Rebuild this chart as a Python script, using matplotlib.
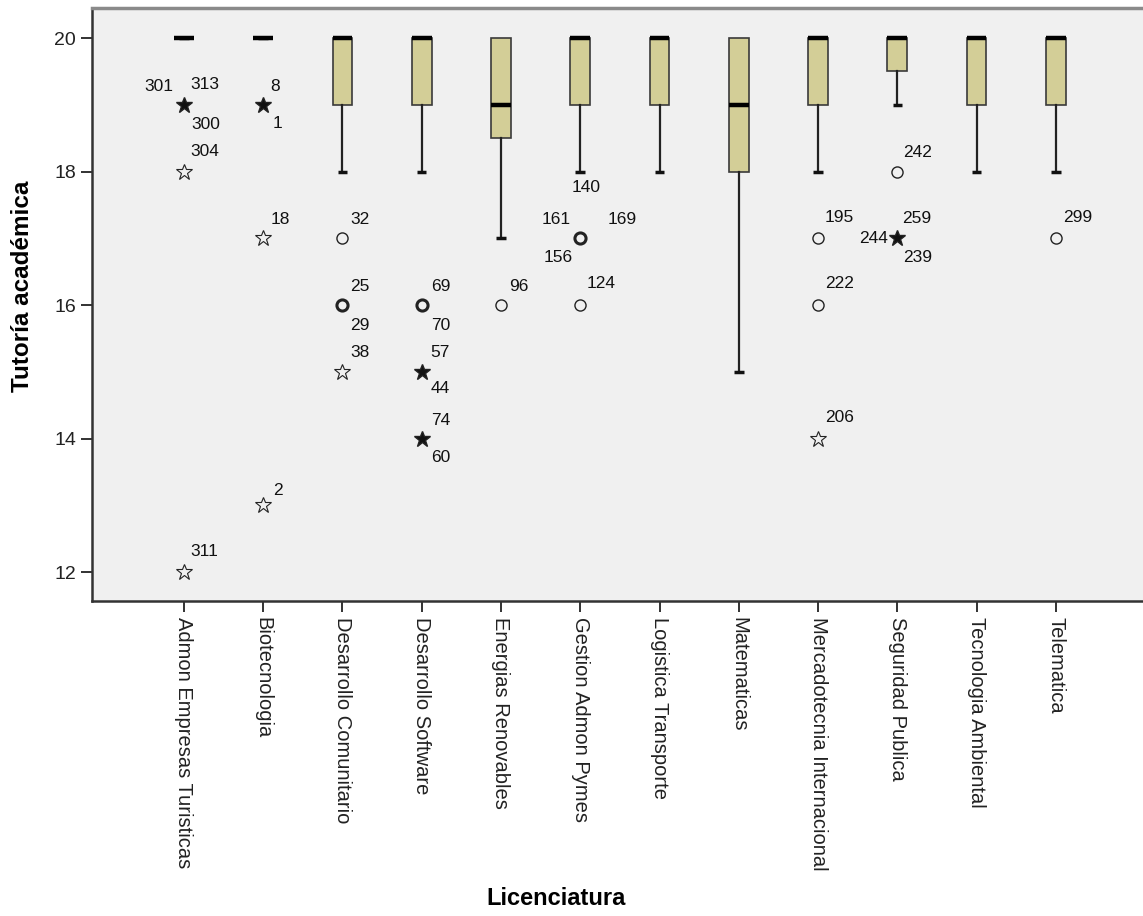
import matplotlib
matplotlib.use("Agg")
import matplotlib.pyplot as plt

plt.rcParams['font.family'] = ['Liberation Sans', 'DejaVu Sans']

# categories and box statistics
carreras = ['Admon Empresas Turisticas', 'Biotecnologia', 'Desarrollo Comunitario',
            'Desarrollo Software', 'Energias Renovables', 'Gestion Admon Pymes',
            'Logistica Transporte', 'Matematicas', 'Mercadotecnia Internacional',
            'Seguridad Publica', 'Tecnologia Ambiental', 'Telematica']
q1 = [20, 20, 19, 19, 18.5, 19, 19, 18, 19, 19.5, 19, 19]
mediana = [20, 20, 20, 20, 19, 20, 20, 19, 20, 20, 20, 20]
q3 = [20, 20, 20, 20, 20, 20, 20, 20, 20, 20, 20, 20]
bigote_inf = [20, 20, 18, 18, 17, 18, 18, 15, 18, 19, 18, 18]
bigote_sup = [20, 20, 20, 20, 20, 20, 20, 20, 20, 20, 20, 20]

# outliers: category index, value, type, case ids
out_cat = [0, 0, 0, 1, 1, 1, 2, 2, 2, 3, 3, 3, 4, 5, 5, 8, 8, 8, 9, 9, 11]
out_val = [19, 18, 12, 19, 17, 13, 17, 16, 15, 16, 15, 14, 16, 17, 16, 17, 16, 14, 18, 17, 17]
out_tipo = ['ext', 'ext', 'ext', 'ext', 'ext', 'ext', 'o', 'o', 'ext', 'o', 'ext', 'ext',
            'o', 'o', 'o', 'o', 'o', 'ext', 'o', 'ext', 'o']
out_ids = [['301', '313', '300'], ['304'], ['311'], ['8', '1'], ['18'], ['2'],
           ['32'], ['25', '29'], ['38'], ['69', '70'], ['57', '44'], ['74', '60'],
           ['96'], ['140', '161', '169', '156'], ['124'], ['195'], ['222'], ['206'],
           ['242'], ['259', '244', '239'], ['299']]

# label placement (pixels from the point, alignment)
lbl_pos = {'301': (-11, 18, 'right'), '313': (6, 20, 'left'), '300': (7, -20, 'left'),
           '304': (6, 20, 'left'), '311': (6, 21, 'left'), '8': (7, 18, 'left'),
           '1': (9, -19, 'left'), '18': (7, 19, 'left'), '2': (10, 15, 'left'),
           '32': (8, 19, 'left'), '25': (8, 19, 'left'), '29': (8, -20, 'left'),
           '38': (8, 19, 'left'), '69': (9, 19, 'left'), '70': (9, -20, 'left'),
           '57': (9, 19, 'left'), '44': (9, -17, 'left'), '74': (9, 18, 'left'),
           '60': (9, -19, 'left'), '96': (8, 19, 'left'), '140': (6, 51, 'center'),
           '161': (-10, 19, 'right'), '169': (27, 19, 'left'), '156': (-8, -19, 'right'),
           '124': (6, 22, 'left'), '195': (7, 21, 'left'), '222': (7, 22, 'left'),
           '206': (7, 21, 'left'), '242': (6, 19, 'left'), '259': (5, 20, 'left'),
           '244': (-9, 0, 'right'), '239': (6, -19, 'left'), '299': (7, 21, 'left')}

fig = plt.figure(figsize=(11.43, 9.16), dpi=100)
ax = fig.add_axes([0.0805, 0.344, 0.9195, 0.6473])
ax.set_facecolor('#f0f0f0')

stats = []
for i in range(len(carreras)):
    stats.append({'q1': q1[i], 'med': mediana[i], 'q3': q3[i],
                  'whislo': bigote_inf[i], 'whishi': bigote_sup[i], 'fliers': []})

bp = ax.bxp(stats, positions=range(len(carreras)), widths=0.25, capwidths=0.12,
            patch_artist=True, showfliers=False,
            boxprops=dict(facecolor='#d3ce97', edgecolor='#3a3a3a', linewidth=1.2),
            medianprops=dict(color='black', linewidth=3.2, solid_capstyle='butt'),
            whiskerprops=dict(color='#222222', linewidth=1.6),
            capprops=dict(color='#111111', linewidth=2.5, solid_capstyle='butt'))
# upper whisker coincides with the box top: no cap drawn there
for i in range(len(carreras)):
    if bigote_sup[i] == q3[i]:
        bp['caps'][2 * i + 1].set_visible(False)

for c, v, t, ids in zip(out_cat, out_val, out_tipo, out_ids):
    heavy = len(ids) > 1
    if t == 'o':
        ax.plot(c, v, marker='o', markersize=8, mfc='none', mec='#222222',
                mew=2.2 if heavy else 1.0, zorder=5)
    else:
        ax.plot(c, v, marker='*', markersize=12, mfc='#111111' if heavy else 'none',
                mec='#222222', mew=1.0 if heavy else 0.8, zorder=5)
    for s in ids:
        dx, dy, ha = lbl_pos[s]
        ax.annotate(s, (c, v), xytext=(dx, dy), textcoords='offset pixels',
                    ha=ha, va='center', fontsize=12.5, color='#111111')

ax.set_xlim(-1.16, 12.1)
ax.set_ylim(11.57, 20.45)
ax.set_yticks([12, 14, 16, 18, 20])
ax.set_xticks(range(len(carreras)))
ax.set_xticklabels(carreras, rotation=-90, va='top', ha='center', fontsize=14.5)
ax.tick_params(axis='y', length=8, width=1.3, labelsize=14, colors='#222222')
ax.tick_params(axis='x', length=8, width=1.3, colors='#222222')

ax.spines['right'].set_visible(False)
ax.spines['top'].set_color('#8a8a8a')
ax.spines['top'].set_linewidth(2.5)
for s in ['left', 'bottom']:
    ax.spines[s].set_color('#333333')
    ax.spines[s].set_linewidth(1.8)

ax.set_ylabel('Tutoría académica', fontsize=17.5, fontweight='bold')
ax.set_xlabel('Licenciatura', fontsize=17, fontweight='bold')
ax.yaxis.set_label_coords(-0.055, 0.53)
ax.xaxis.set_label_coords(0.442, -0.483)

plt.savefig('out.png', dpi=100)
